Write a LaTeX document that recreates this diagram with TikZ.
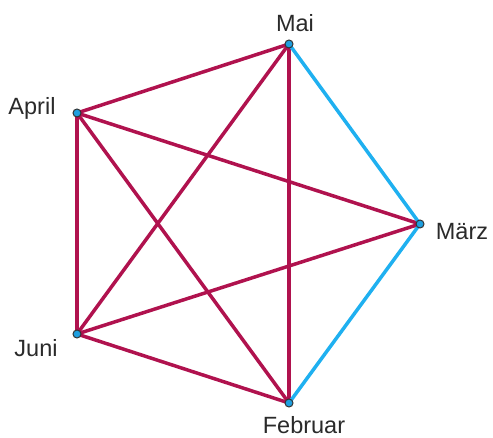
\documentclass[tikz,border=0pt]{standalone}
\usepackage{fontspec}
\setmainfont{Liberation Sans}
\definecolor{edgered}{HTML}{B0124E}
\definecolor{edgeblue}{HTML}{1FB0F0}
\definecolor{dotblue}{HTML}{1E9FE0}
\definecolor{labelgray}{HTML}{2A2A2A}
\begin{document}
\begin{tikzpicture}[x=1pt,y=-1pt,
  vert/.style={circle,fill=dotblue,draw=black!80,line width=1pt,inner sep=0pt,minimum size=8pt},
  lab/.style={text=labelgray,font=\fontsize{23.5}{25}\selectfont,inner sep=0pt,anchor=base},
  redge/.style={draw=edgered,line width=3.5pt},
  bedge/.style={draw=edgeblue,line width=3.5pt}]
\useasboundingbox (0,0) rectangle (493,438);
\coordinate (mai) at (289,44);
\coordinate (april) at (77,113);
\coordinate (maerz) at (420,224);
\coordinate (juni) at (77,334);
\coordinate (feb) at (289,403);
\draw[redge] (mai) -- (april);
\draw[redge] (mai) -- (juni);
\draw[redge] (mai) -- (feb);
\draw[redge] (april) -- (maerz);
\draw[redge] (april) -- (juni);
\draw[redge] (april) -- (feb);
\draw[redge] (juni) -- (maerz);
\draw[redge] (juni) -- (feb);
\draw[bedge] (mai) -- (maerz);
\draw[bedge] (maerz) -- (feb);
\node[vert] (vmai) at (mai) {};
\node[vert] (vapril) at (april) {};
\node[vert] (vmaerz) at (maerz) {};
\node[vert] (vjuni) at (juni) {};
\node[vert] (vfeb) at (feb) {};
\node[lab] (lmai) at (295,32) {Mai};
\node[lab] (lapril) at (32,115) {April};
\node[lab] (lmaerz) at (462,240) {März};
\node[lab] (ljuni) at (36,357) {Juni};
\node[lab] (lfeb) at (304,433) {Februar};
\end{tikzpicture}
\end{document}
